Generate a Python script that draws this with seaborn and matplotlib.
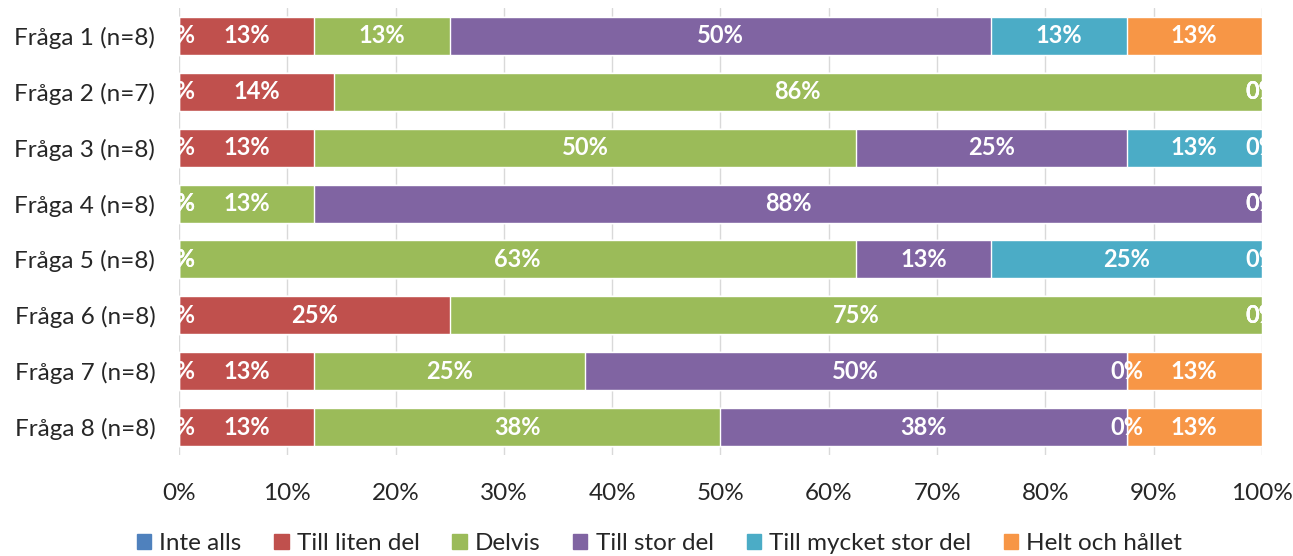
import numpy as np
import pandas as pd
import matplotlib
matplotlib.use("Agg")
import matplotlib.pyplot as plt
import matplotlib.patches as mpatches
import seaborn as sns

# Data (answer counts per question)
questions = ["Fråga 1 (n=8)", "Fråga 2 (n=7)", "Fråga 3 (n=8)", "Fråga 4 (n=8)",
             "Fråga 5 (n=8)", "Fråga 6 (n=8)", "Fråga 7 (n=8)", "Fråga 8 (n=8)"]
n_answers = [8, 7, 8, 8, 8, 8, 8, 8]
categories = ["Inte alls", "Till liten del", "Delvis", "Till stor del",
              "Till mycket stor del", "Helt och hållet"]
inte_alls = [0, 0, 0, 0, 0, 0, 0, 0]
till_liten_del = [1, 1, 1, 0, 0, 2, 1, 1]
delvis = [1, 6, 4, 1, 5, 6, 2, 3]
till_stor_del = [4, 0, 2, 7, 1, 0, 4, 3]
till_mycket_stor_del = [1, 0, 1, 0, 2, 0, 0, 0]
helt_och_hallet = [1, 0, 0, 0, 0, 0, 1, 1]
colors = ["#4F81BD", "#C0504D", "#9BBB59", "#8064A2", "#4BACC6", "#F79646"]

counts = pd.DataFrame(
    np.array([inte_alls, till_liten_del, delvis, till_stor_del,
              till_mycket_stor_del, helt_och_hallet]).T,
    columns=categories, index=questions)
pct = counts.div(n_answers, axis=0) * 100
cum = pct.cumsum(axis=1)

sns.set_style("white")
plt.rcParams["font.family"] = ["Lato", "DejaVu Sans"]

fig = plt.figure(figsize=(12.93, 5.56), dpi=100)
ax = fig.add_axes([0.1384, 0.1817, 0.8376, 0.8039])

# stacked bars: draw cumulative totals from the last category backwards
for cat, col in reversed(list(zip(categories, colors))):
    df = pd.DataFrame({"question": questions, "value": cum[cat].values})
    sns.barplot(data=df, x="value", y="question", orient="h", color=col,
                width=0.68, edgecolor="white", linewidth=1, ax=ax,
                saturation=1, zorder=2)

# value labels
for i, q in enumerate(questions):
    for cat in categories:
        p = pct.loc[q, cat]
        center = cum.loc[q, cat] - p / 2
        ax.text(center, i, f"{int(np.floor(p + 0.5))}%", ha="center",
                va="center", color="white", fontsize=17, fontweight="bold",
                clip_on=True, zorder=5)

ax.set_xlim(0, 100)
ax.set_ylim(7.5, -0.5)
ax.set_xticks(range(0, 101, 10))
ax.set_xticklabels([f"{t}%" for t in range(0, 101, 10)])
ax.set_xlabel("")
ax.set_ylabel("")
ax.tick_params(axis="both", length=0, labelsize=17.5, colors="#262626")
ax.tick_params(axis="x", pad=20)
ax.tick_params(axis="y", pad=17)
ax.grid(axis="x", color="#D9D9D9", linewidth=1, zorder=0)
ax.set_axisbelow(True)
sns.despine(ax=ax, left=True, bottom=True)

handles = [mpatches.Patch(color=c, label=l) for l, c in zip(categories, colors)]
fig.legend(handles=handles, loc="center", bbox_to_anchor=(0.51, 0.022),
           ncol=6, frameon=False, fontsize=17.5, handlelength=0.58,
           handleheight=0.58, handletextpad=0.33, columnspacing=1.36,
           labelcolor="#262626", borderpad=0)

fig.savefig("out.png", dpi=100)
